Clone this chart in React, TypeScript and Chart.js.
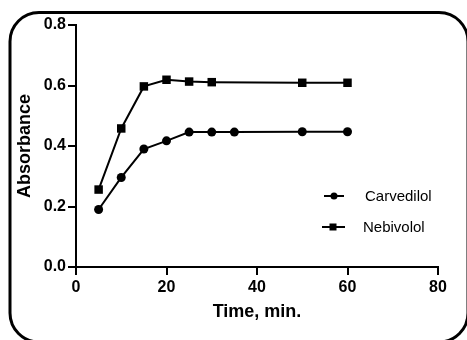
import React, { useEffect, useRef } from "react";
import { Chart, registerables } from "chart.js";

Chart.register(...registerables);

const carvedilolTime = [5, 10, 15, 20, 25, 30, 35, 50, 60];
const carvedilolAbs = [0.19, 0.296, 0.39, 0.417, 0.446, 0.446, 0.446, 0.447, 0.447];
const nebivololTime = [5, 10, 15, 20, 25, 30, 50, 60];
const nebivololAbs = [0.256, 0.458, 0.597, 0.619, 0.613, 0.611, 0.609, 0.609];
const seriesNames = ["Carvedilol", "Nebivolol"];
const xTitle = "Time, min.";
const yTitle = "Absorbance";

const FONT = "'Liberation Sans', Arial, Helvetica, sans-serif";

const framePlugin = {
  id: "frame",
  afterDraw(chart: any) {
    const ctx = chart.ctx;
    ctx.save();
    ctx.strokeStyle = "#000";
    ctx.lineWidth = 3;
    const l = 10, t = 12.5, r = 468, b = 342, rad = 29;
    ctx.beginPath();
    ctx.moveTo(l + rad, t);
    ctx.lineTo(r - rad, t);
    ctx.arcTo(r, t, r, t + rad, rad);
    ctx.lineTo(r, b - rad);
    ctx.arcTo(r, b, r - rad, b, rad);
    ctx.lineTo(l + rad, b);
    ctx.arcTo(l, b, l, b - rad, rad);
    ctx.lineTo(l, t + rad);
    ctx.arcTo(l, t, l + rad, t, rad);
    ctx.closePath();
    ctx.stroke();
    ctx.restore();
  },
};

const legendPlugin = {
  id: "customLegend",
  afterDraw(chart: any) {
    const ctx = chart.ctx;
    const rows = [
      { y: 196, x0: 324, x1: 344, mx: 334, tx: 365 },
      { y: 227, x0: 322, x1: 345, mx: 333, tx: 363 },
    ];
    chart.data.datasets.forEach((ds: any, i: number) => {
      const row = rows[i];
      ctx.save();
      ctx.strokeStyle = "#000";
      ctx.fillStyle = "#000";
      ctx.lineWidth = 2;
      ctx.beginPath();
      ctx.moveTo(row.x0, row.y);
      ctx.lineTo(row.x1, row.y);
      ctx.stroke();
      if (ds.pointStyle === "rect") {
        ctx.fillRect(row.mx - 3.5, row.y - 3.5, 7, 7);
      } else {
        ctx.beginPath();
        ctx.arc(row.mx, row.y, 3.5, 0, Math.PI * 2);
        ctx.fill();
      }
      ctx.font = `15px ${FONT}`;
      ctx.textBaseline = "middle";
      ctx.textAlign = "left";
      ctx.fillText(ds.label, row.tx, row.y + 1);
      ctx.restore();
    });
  },
};

export default function App() {
  const ref = useRef<HTMLCanvasElement>(null);
  useEffect(() => {
    if (!ref.current) return;
    const chart = new Chart(ref.current, {
      type: "line",
      data: {
        datasets: [
          {
            label: seriesNames[0],
            data: carvedilolTime.map((x, i) => ({ x, y: carvedilolAbs[i] })),
            borderColor: "#000",
            backgroundColor: "#000",
            borderWidth: 2,
            pointStyle: "circle",
            pointRadius: 4.5,
            pointBorderWidth: 0,
            tension: 0,
          },
          {
            label: seriesNames[1],
            data: nebivololTime.map((x, i) => ({ x, y: nebivololAbs[i] })),
            borderColor: "#000",
            backgroundColor: "#000",
            borderWidth: 2,
            pointStyle: "rect",
            pointRadius: 6,
            pointBorderWidth: 0,
            tension: 0,
          },
        ],
      },
      options: {
        responsive: false,
        animation: false,
        layout: { padding: { left: 0, top: 25, right: 29, bottom: 0 } },
        plugins: { legend: { display: false }, tooltip: { enabled: false } },
        scales: {
          x: {
            type: "linear",
            min: 0,
            max: 80,
            ticks: {
              stepSize: 20,
              color: "#000",
              padding: 3,
              font: { family: FONT, size: 16, weight: "bold" },
            },
            grid: { drawOnChartArea: false, drawTicks: true, tickLength: 8, color: "#000", lineWidth: 2 },
            border: { color: "#000", width: 2 },
            title: {
              display: true,
              text: xTitle,
              color: "#000",
              font: { family: FONT, size: 18, weight: "bold" },
              padding: { top: 0, bottom: 17 },
            },
            afterFit(scale: any) {
              scale.height = 73;
            },
          },
          y: {
            min: 0,
            max: 0.8,
            ticks: {
              stepSize: 0.2,
              color: "#000",
              padding: 2,
              font: { family: FONT, size: 16, weight: "bold" },
              callback: (v: any) => Number(v).toFixed(1),
            },
            grid: { drawOnChartArea: false, drawTicks: true, tickLength: 8, color: "#000", lineWidth: 2 },
            border: { color: "#000", width: 2 },
            title: {
              display: true,
              text: yTitle,
              color: "#000",
              font: { family: FONT, size: 18, weight: "bold" },
              padding: { top: 14, bottom: 0 },
            },
            afterFit(scale: any) {
              scale.width = 76;
            },
          },
        },
      },
      plugins: [framePlugin, legendPlugin],
    });
    return () => chart.destroy();
  }, []);
  return (
    <div style={{ position: "fixed", left: 0, top: 0, width: 467, height: 340, background: "#fff" }}>
      <canvas ref={ref} width={467} height={340} />
    </div>
  );
}
